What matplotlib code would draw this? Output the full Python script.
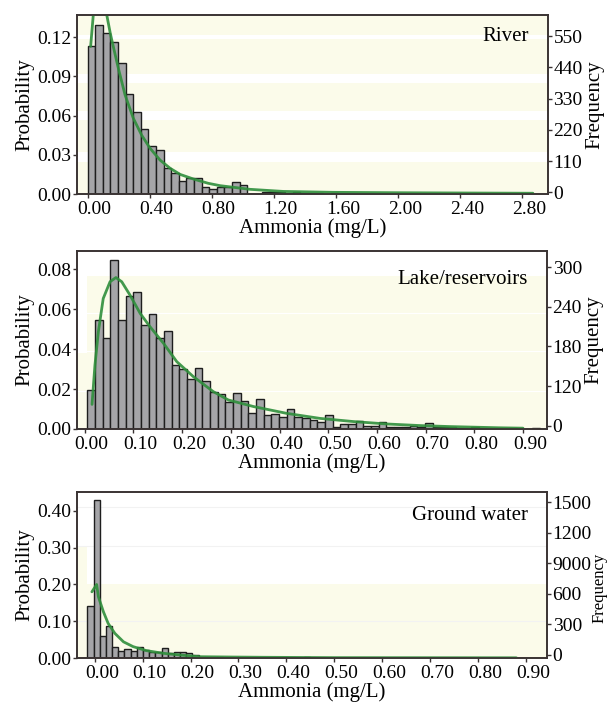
import numpy as np
import matplotlib
matplotlib.use("Agg")
import matplotlib.pyplot as plt
import matplotlib.transforms as mtransforms

plt.rcParams['font.family'] = ['Liberation Serif', 'DejaVu Serif']
plt.rcParams['mathtext.fontset'] = 'stix'

# ---- River ----
river_start, river_width = 0.0, 0.049
river_prob = [0.113, 0.129, 0.123, 0.116, 0.100, 0.0766, 0.063, 0.0495, 0.037, 0.034,
              0.020, 0.0163, 0.010, 0.0125, 0.012, 0.005, 0.004, 0.0055, 0.005, 0.009,
              0.007, 0.0, 0.0, 0.0018, 0.0018, 0.0015, 0.001, 0.0012, 0.001, 0.0008,
              0.0005, 0.0004, 0.0006, 0.0003, 0.0004, 0.0003, 0.0002, 0.0004, 0.0003, 0.0002,
              0.0003, 0.0002, 0.0002, 0.0003, 0.0002, 0.0001, 0.0002, 0.0001, 0.0001, 0.0001,
              0.0002, 0.0001, 0.0001, 0.0001, 0.0001, 0.0002, 0.0001, 0.0001, 0.0001]
river_kde_x = [0.02, 0.037, 0.06, 0.085, 0.105, 0.124, 0.145, 0.156, 0.199, 0.242, 0.295,
               0.349, 0.403, 0.467, 0.532, 0.597, 0.682, 0.778, 0.854, 1.047, 1.26, 1.58,
               1.99, 2.4, 2.87]
river_kde_y = [0.113, 0.137, 0.158, 0.163, 0.152, 0.137, 0.124, 0.118, 0.096, 0.0758, 0.058,
               0.045, 0.035, 0.026, 0.0197, 0.015, 0.0115, 0.0082, 0.0064, 0.0036, 0.002, 0.0013,
               0.001, 0.0008, 0.0006]

# ---- Lake/reservoirs ----
lake_start, lake_width = 0.005, 0.01576
lake_prob = [0.0193, 0.0545, 0.0457, 0.0848, 0.0545, 0.0668, 0.0685, 0.052, 0.0573, 0.0453,
             0.049, 0.032, 0.0298, 0.0248, 0.0303, 0.0241, 0.0187, 0.0175, 0.0137, 0.0178,
             0.0142, 0.0082, 0.0148, 0.007, 0.0073, 0.0062, 0.0098, 0.0058, 0.0053, 0.0045,
             0.0037, 0.0068, 0.0012, 0.0023, 0.0023, 0.0042, 0.0017, 0.0017, 0.0037, 0.0008,
             0.0008, 0.0008, 0.0017, 0.001, 0.0032, 0.001, 0.0008, 0.0008, 0.0005, 0.0005,
             0.0008, 0.0005, 0.0003, 0.0003, 0.0003, 0.0003, 0.0002, 0.0002, 0.0005]
lake_kde_x = [0.015, 0.021, 0.028, 0.038, 0.052, 0.064, 0.076, 0.093, 0.114, 0.134, 0.162,
              0.189, 0.223, 0.264, 0.295, 0.347, 0.415, 0.483, 0.552, 0.62, 0.689, 0.75,
              0.85, 0.9]
lake_kde_y = [0.0123, 0.032, 0.0487, 0.0653, 0.0737, 0.0758, 0.0737, 0.067, 0.0578, 0.0512,
              0.0428, 0.0337, 0.0262, 0.0187, 0.0145, 0.0112, 0.0078, 0.0053, 0.0037, 0.0025,
              0.0017, 0.0012, 0.0006, 0.0004]

# ---- Ground water ----
ground_start, ground_width = -0.0154, 0.0129
ground_prob = [0.142, 0.429, 0.059, 0.086, 0.030, 0.020, 0.024, 0.020, 0.030, 0.0226,
               0.015, 0.015, 0.027, 0.0135, 0.016, 0.016, 0.0135, 0.007, 0.004, 0.002,
               0.002, 0.0015, 0.001, 0.001, 0.001, 0.0, 0.0, 0.0005, 0.0, 0.0,
               0.0, 0.0, 0.0, 0.0, 0.0, 0.002, 0.0, 0.0, 0.0, 0.0,
               0.0, 0.0, 0.0, 0.0, 0.0, 0.0, 0.0, 0.0, 0.0, 0.0,
               0.0, 0.0, 0.0, 0.0, 0.0, 0.0, 0.0, 0.0, 0.0, 0.0,
               0.0, 0.0, 0.0, 0.0, 0.0, 0.0, 0.0, 0.0, 0.0, 0.0,
               0.0, 0.0, 0.0]
ground_kde_x = [-0.006, 0.004, 0.0075, 0.018, 0.028, 0.042, 0.060, 0.080, 0.108, 0.143,
                0.178, 0.220, 0.282, 0.35, 0.5, 0.7, 0.88]
ground_kde_y = [0.18, 0.20, 0.167, 0.126, 0.094, 0.067, 0.044, 0.031, 0.020, 0.0128,
                0.0082, 0.0035, 0.0027, 0.002, 0.001, 0.0008, 0.0006]

panels = [
    dict(name='River', start=river_start, width=river_width, prob=river_prob,
         kx=river_kde_x, ky=river_kde_y,
         xlim=(-0.0677, 2.967), xticks=np.arange(0, 2.81, 0.4),
         ylim=(0, 0.137), yticks=[0, 0.03, 0.06, 0.09, 0.12],
         rlim=(-6, 624), rticks=[0, 110, 220, 330, 440, 550],
         rlabels=['0', '110', '220', '330', '440', '550'],
         pos=[0.1269, 0.724, 0.7759, 0.2546]),
    dict(name='Lake/reservoirs', start=lake_start, width=lake_width, prob=lake_prob,
         kx=lake_kde_x, ky=lake_kde_y,
         xlim=(-0.0158, 0.9493), xticks=np.arange(0, 0.91, 0.1),
         ylim=(0, 0.0891), yticks=[0, 0.02, 0.04, 0.06, 0.08],
         rlim=(55, 324.5), rticks=[60, 120, 180, 240, 300],
         rlabels=['0', '120', '180', '240', '300'],
         pos=[0.1269, 0.3898, 0.7743, 0.2532]),
    dict(name='Ground water', start=ground_start, width=ground_width, prob=ground_prob,
         kx=ground_kde_x, ky=ground_kde_y,
         xlim=(-0.037, 0.944), xticks=np.arange(0, 0.91, 0.1),
         ylim=(0, 0.4515), yticks=[0, 0.1, 0.2, 0.3, 0.4],
         rlim=(-33, 1598), rticks=[0, 300, 600, 900, 1200, 1500],
         rlabels=['0', '300', '600', '9000', '1200', '1500'],
         pos=[0.1269, 0.064, 0.7743, 0.2361]),
]

yellow = '#fbfbea'
spine_c = '#3a3333'

fig = plt.figure(figsize=(6.07, 7.03), dpi=100)
offset = mtransforms.ScaledTranslation(7 / 100, 0, fig.dpi_scale_trans)

for i, p in enumerate(panels):
    ax = fig.add_axes(p['pos'])
    ax.set_xlim(*p['xlim'])
    ax.set_ylim(*p['ylim'])

    # background bands
    x0 = p['xlim'][0]
    bar_frac = (p['start'] - x0) / (p['xlim'][1] - x0)
    if i == 0:
        ax.axhspan(0, p['ylim'][1], color=yellow, zorder=0, lw=0)
        for lo, hi in [(0.1185, 0.1217), (0.0852, 0.0919), (0.0567, 0.0636), (0.0247, 0.0324)]:
            ax.axhspan(lo, hi, color='white', zorder=0.1, lw=0)
    elif i == 1:
        ax.axhspan(0, 0.0765, xmin=bar_frac, color=yellow, zorder=0, lw=0)
        ax.axhspan(0, 0.0378, xmax=bar_frac, color=yellow, zorder=0, lw=0)
        for yy in [0.0583, 0.039, 0.019]:
            ax.axhline(yy, color='white', lw=0.8, zorder=0.1)
    else:
        ax.axhspan(0, 0.201, xmin=bar_frac, color=yellow, zorder=0, lw=0)
        ax.axhspan(0, 0.304, xmax=bar_frac, color=yellow, zorder=0, lw=0)
        for yy in [0.101, 0.304, 0.41]:
            ax.axhline(yy, color='#f2f2f2', lw=0.8, zorder=0.1)

    prob = np.array(p['prob'])
    lefts = p['start'] + p['width'] * np.arange(len(prob))
    ax.bar(lefts, prob, width=p['width'], align='edge', color='#a5a5a8',
           edgecolor='#1e1e1e', linewidth=1.0, zorder=2)
    ax.plot(p['kx'], p['ky'], color='#2f8f3c', lw=2.0, alpha=0.9, zorder=3,
            solid_capstyle='round')

    ax.set_xticks(p['xticks'])
    ax.set_xticklabels(['%.2f' % v for v in p['xticks']])
    ax.set_yticks(p['yticks'])
    ax.set_yticklabels(['%.2f' % v for v in p['yticks']])
    ax.tick_params(axis='both', labelsize=14, length=3, width=1, color=spine_c,
                   pad=1, direction='out')
    ax.tick_params(axis='x', pad=2)
    # labels sit a bit to the right of their ticks in the original
    for tick in ax.xaxis.get_major_ticks():
        tick.label1.set_transform(tick.label1.get_transform() + offset)
    ax.set_ylabel('Probability', fontsize=15, labelpad=2)
    ax.set_xlabel('Ammonia (mg/L)', fontsize=15, labelpad=0)
    ax.text(0.96, 0.88 if i == 0 else (0.84 if i == 1 else 0.86), p['name'],
            transform=ax.transAxes, ha='right', va='center', fontsize=15, zorder=5)

    for s in ax.spines.values():
        s.set_color(spine_c)
        s.set_linewidth(1.2)

    ax2 = ax.twinx()
    ax2.set_ylim(*p['rlim'])
    ax2.set_yticks(p['rticks'])
    ax2.set_yticklabels(p['rlabels'])
    ax2.tick_params(axis='y', labelsize=14, length=3, width=1, color=spine_c, pad=1)
    if i == 2:
        # wide tick labels leave little room at the edge here
        ax2.set_ylabel('Frequency', fontsize=12)
        ax2.yaxis.set_label_coords(1.095, 0.42)
    else:
        ax2.set_ylabel('Frequency', fontsize=15, labelpad=2)
    for s in ax2.spines.values():
        s.set_color(spine_c)
        s.set_linewidth(1.2)

fig.savefig('out.png', dpi=100)
